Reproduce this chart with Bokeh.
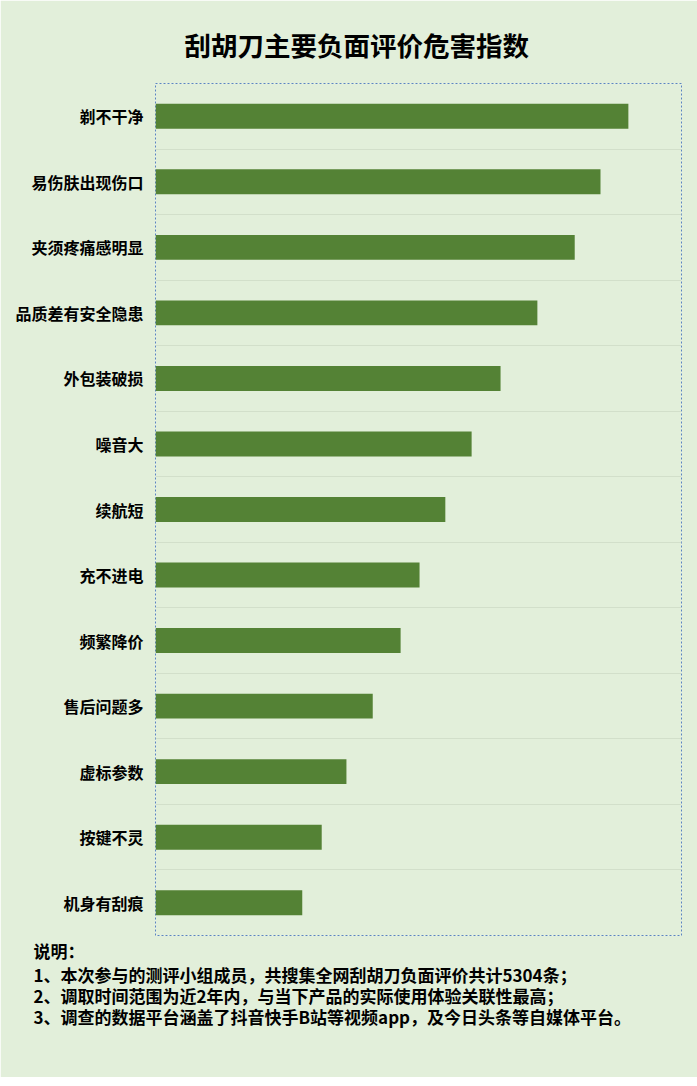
from bokeh.plotting import figure
from bokeh.models import Range1d, FixedTicker, Title
from bokeh.embed import file_html
from bokeh.resources import INLINE

categories = ["剃不干净", "易伤肤出现伤口", "夹须疼痛感明显", "品质差有安全隐患", "外包装破损",
              "噪音大", "续航短", "充不进电", "频繁降价", "售后问题多", "虚标参数", "按键不灵", "机身有刮痕"]
values = [89.9, 84.6, 79.7, 72.6, 65.6, 60.1, 55.1, 50.2, 46.6, 41.3, 36.3, 31.6, 27.9]
title_text = "刮胡刀主要负面评价危害指数"
notes = ["说明：",
         "1、本次参与的测评小组成员，共搜集全网刮胡刀负面评价共计5304条；",
         "2、调取时间范围为近2年内，与当下产品的实际使用体验关联性最高；",
         "3、调查的数据平台涵盖了抖音快手B站等视频app，及今日头条等自媒体平台。"]

BG = "#e2efda"
FONT = "Noto Sans CJK SC"
n = len(categories)
ys = [n - 1 - i for i in range(n)]

p = figure(width=697, height=1077, output_backend="svg", toolbar_location=None,
           x_range=Range1d(0, 100), y_range=Range1d(-0.5, n - 0.5),
           min_border_left=155, min_border_right=16, min_border_top=83, min_border_bottom=142)
p.background_fill_color = BG
p.border_fill_color = BG
p.outline_line_color = "#5b84c0"
p.outline_line_dash = "2 2"
p.outline_line_width = 1

p.hbar(y=ys, right=values, left=0, height=0.38, fill_color="#548235", line_color=None)

p.xaxis.visible = False
p.xgrid.visible = False
p.ygrid.ticker = FixedTicker(ticks=[k + 0.5 for k in range(n - 1)])
p.ygrid.grid_line_color = "#d2dfca"
p.ygrid.grid_line_width = 1

ya = p.yaxis[0]
ya.ticker = FixedTicker(ticks=ys)
ya.major_label_overrides = {y: c for y, c in zip(ys, categories)}
ya.axis_line_color = None
ya.major_tick_line_color = None
ya.minor_tick_line_color = None
ya.major_tick_out = 0
ya.major_tick_in = 0
ya.major_label_standoff = 12
ya.major_label_text_font = FONT
ya.major_label_text_font_style = "bold"
ya.major_label_text_font_size = "16px"
ya.major_label_text_color = "#000000"

p.title.text = title_text
p.title.align = "left"
p.title.offset = 29
p.title.standoff = 35
p.title.vertical_align = "top"
p.title.text_font = FONT
p.title.text_font_style = "bold"
p.title.text_font_size = "26.5px"
p.title.text_color = "#000000"

for i, t in enumerate(notes):
    p.add_layout(Title(text=t, align="left", offset=-122, standoff=(0 if i == 0 else -6),
                       text_font=FONT, text_font_style="bold", text_font_size="17px",
                       text_color="#000000"), "below")

html = file_html(p, INLINE)
open("out.html", "w").write(html)
